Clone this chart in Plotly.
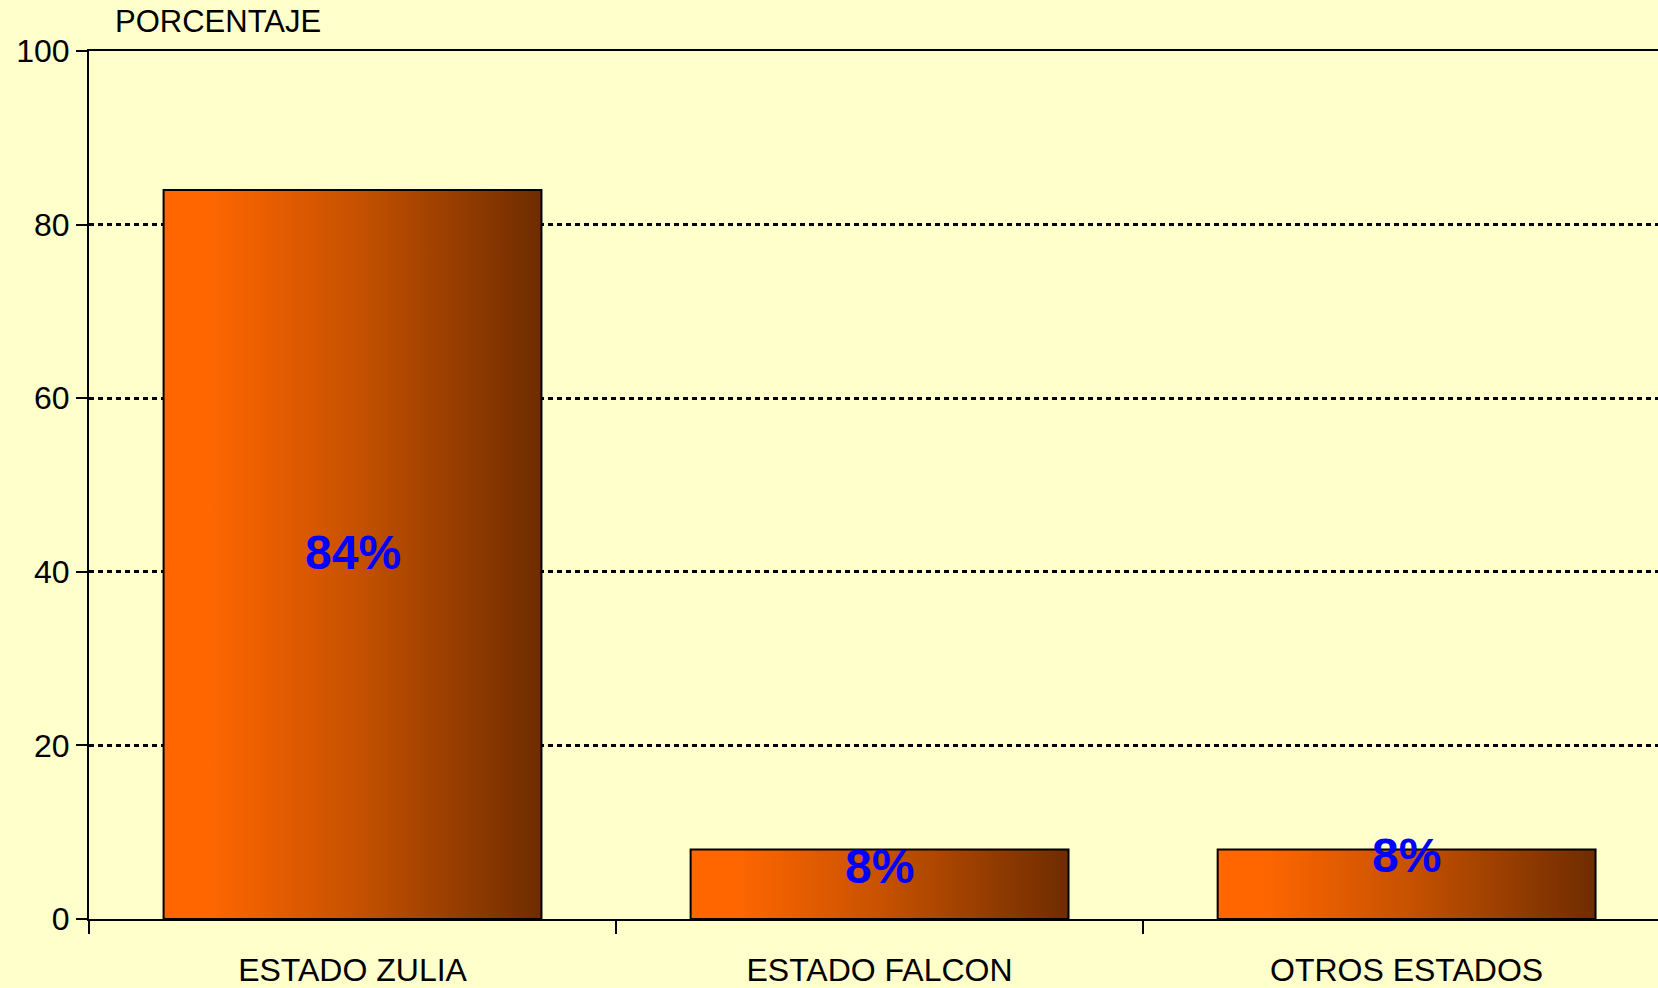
import plotly.graph_objects as go

categories = ["ESTADO ZULIA", "ESTADO FALCON", "OTROS ESTADOS"]
values = [84, 8, 8]
labels = ["84%", "8%", "8%"]
y_ticks = [0, 20, 40, 60, 80, 100]

# where the percent labels sit inside/over each bar (data units)
label_y = [42.2, 6.0, 7.3]
bar_w = 0.717
bar_scale = [[0, "#FF6600"], [0.12, "#FF6600"], [0.5, "#C85200"], [1, "#6E2C00"]]
font = "Liberation Sans, Arial, sans-serif"

fig = go.Figure()

for i, v in enumerate(values):
    x0, x1 = i - bar_w / 2, i + bar_w / 2
    fig.add_scatter(
        x=[x0, x1, x1, x0, x0],
        y=[0, 0, v, v, 0],
        mode="lines",
        fill="toself",
        fillgradient=dict(type="horizontal", colorscale=bar_scale),
        line=dict(color="black", width=2),
        name=categories[i],
        hoverinfo="skip",
        showlegend=False,
    )

for i, (txt, ly) in enumerate(zip(labels, label_y)):
    fig.add_annotation(
        x=i, y=ly, text=txt, showarrow=False,
        xanchor="center", yanchor="middle",
        font=dict(family=font, size=48, color="#0000FF", weight="bold"),
    )

fig.add_annotation(
    xref="paper", yref="paper", x=0.0153, y=1, yshift=10,
    xanchor="left", yanchor="bottom", text="PORCENTAJE", showarrow=False,
    font=dict(family=font, size=31, color="black"),
)

fig.update_layout(
    width=1658, height=988,
    margin=dict(l=89, r=0, t=51, b=67),
    paper_bgcolor="#FFFFCC",
    plot_bgcolor="#FFFFCC",
    showlegend=False,
)
fig.update_xaxes(
    range=[-0.5, 2.477],
    tickmode="array",
    tickvals=list(range(len(categories))),
    ticktext=categories,
    ticks="",
    ticklabelstandoff=22,
    tickfont=dict(family=font, size=32, color="black"),
    showgrid=False,
    zeroline=False,
    showline=True, linecolor="black", linewidth=2, mirror=True,
    minor=dict(ticks="outside", tickmode="linear", tick0=0.5, dtick=1,
               ticklen=13, tickwidth=2, tickcolor="black", showgrid=False),
)
fig.update_yaxes(
    range=[0, 100],
    tickvals=y_ticks,
    ticks="outside", ticklen=11, tickwidth=2, tickcolor="black",
    tickfont=dict(family=font, size=32, color="black"),
    showgrid=True, gridcolor="black", gridwidth=2.5, griddash="5px,4px",
    zeroline=False,
    showline=True, linecolor="black", linewidth=2,
)

fig.write_html(
    "out.html",
    config={"displayModeBar": False},
    post_script="document.body.style.margin='0';document.body.style.background='#FFFFCC';",
)
